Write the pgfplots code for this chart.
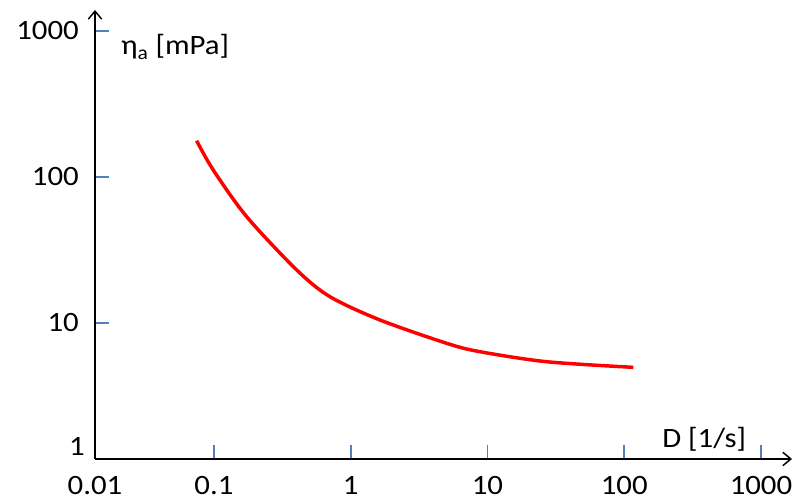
\documentclass[border=0pt]{standalone}
\usepackage{pgfplots}
\pgfplotsset{compat=1.18}
\usetikzlibrary{arrows.meta}
\usepackage{fontspec}
\setmainfont{Carlito}[FakeStretch=1.1]
\definecolor{tickblue}{RGB}{79,129,189}
\definecolor{curvered}{RGB}{255,0,0}

\begin{document}
\fontsize{21}{25}\selectfont
\begin{tikzpicture}
\begin{axis}[
    name=ax,
    xmode=log, ymode=log,
    scale only axis,
    width=522.75pt, height=336.75pt,
    % origin is labelled 0.01 / 1, as in the sketch
    xmin=0.01349, xmax=1686,
    ymin=1.171, ymax=1393,
    axis lines=left,
    axis line style={line width=1.1pt, -{Straight Barb[length=6pt,width=10pt]}},
    xtick={0.1,1,10,100,1000},
    xticklabels={0.1,1,10,100,1000},
    ytick={10,100,1000},
    yticklabels={10,100,1000},
    extra x ticks={0.01349}, extra x tick labels={0.01},
    extra y ticks={1.171}, extra y tick labels={1},
    extra x tick style={major tick length=0pt},
    extra y tick style={major tick length=0pt, yticklabel style={yshift=9.75pt, xshift=4.5pt}},
    xminorticks=false, yminorticks=false,
    tick align=inside,
    major tick length=10.5pt,
    tick style={tickblue, line width=1.2pt},
    xticklabel style={yshift=-6pt},
    yticklabel style={xshift=-5pt},
    /pgf/number format/assume math mode=true,
]

% apparent viscosity vs shear rate
\addplot[curvered, line width=2.6pt, smooth] coordinates {
    (0.0747, 177.3)
    (0.0988, 111.7)
    (0.1734, 53.5)
    (0.403, 23.07)
    (0.705, 15.14)
    (1.636, 10.49)
    (5.03, 7.26)
    (8.81, 6.36)
    (27.1, 5.43)
    (116.5, 4.97)
};

\node[anchor=base west, inner sep=0pt] at (rel axis cs:0.037,0.90) {η\textsubscript{a} [mPa]};
\node[anchor=base west, inner sep=0pt] at (rel axis cs:0.8135,0.025) {D [1/s]};
\end{axis}
\pgfresetboundingbox
\path[use as bounding box] ([shift={(-71.25pt,-32.25pt)}]ax.south west) rectangle ([shift={(524.25pt,344.25pt)}]ax.south west);
\end{tikzpicture}
\end{document}
